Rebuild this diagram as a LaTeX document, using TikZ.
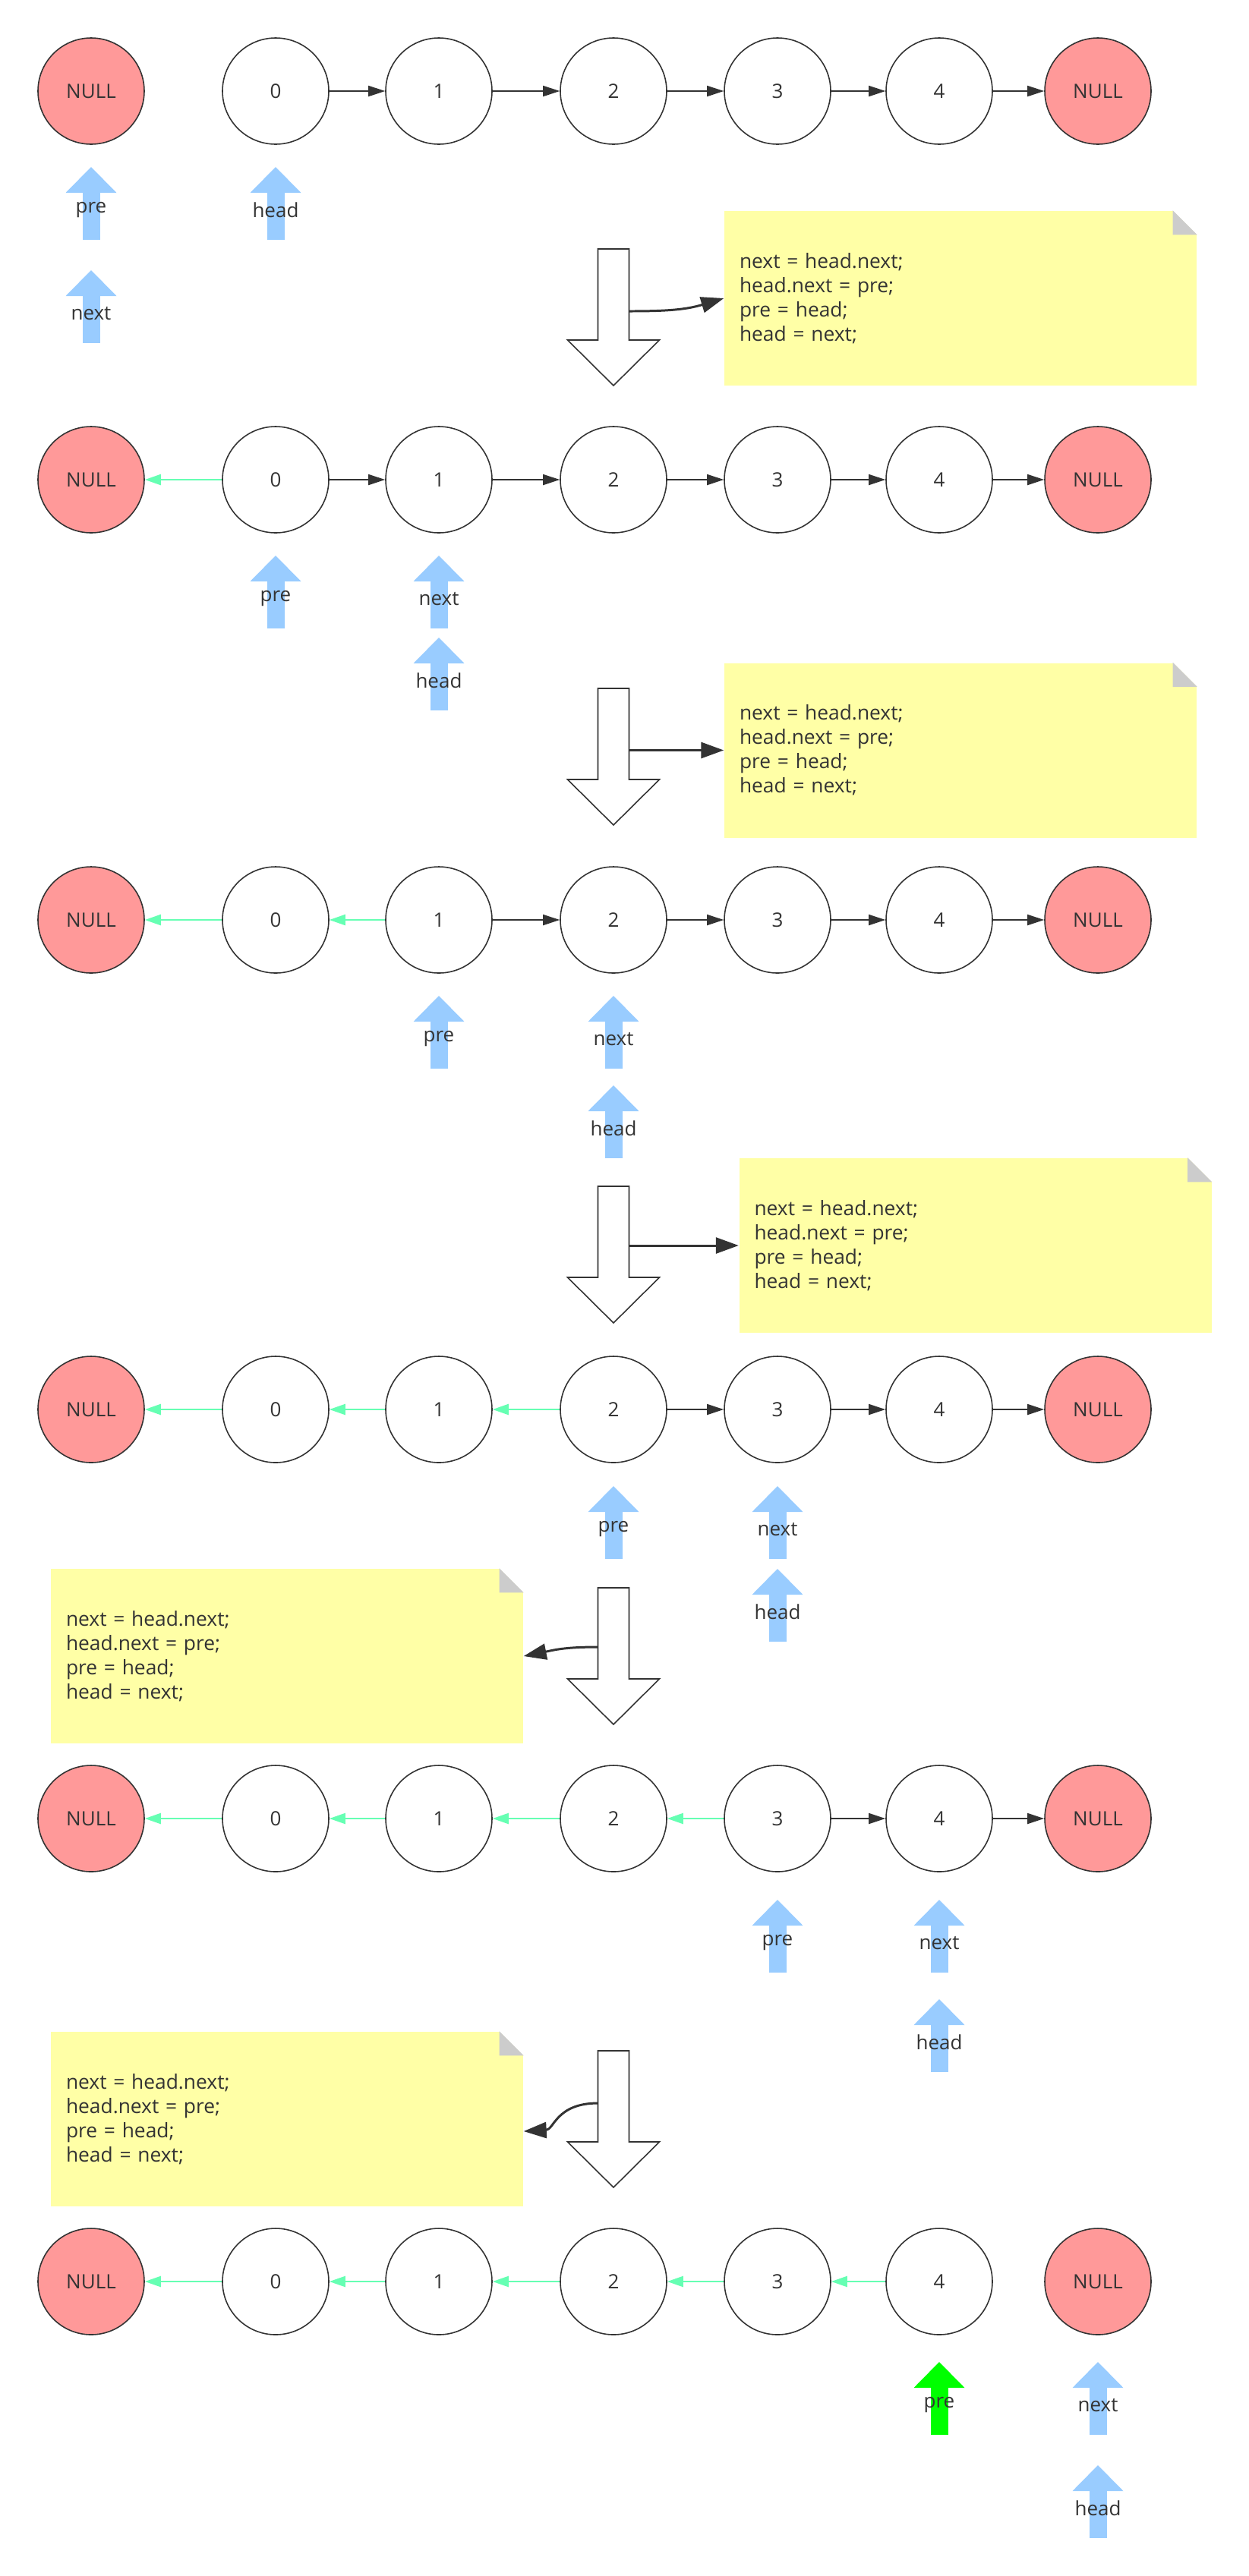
\documentclass[tikz,border=0pt]{standalone}
\usepackage{fontspec}
\setmainfont{Open Sans}
\usetikzlibrary{arrows.meta}
\definecolor{ink}{HTML}{333333}
\definecolor{nullred}{HTML}{FF9999}
\definecolor{ptrblue}{HTML}{99CCFF}
\definecolor{ptrgreen}{HTML}{00FF00}
\definecolor{edgegreen}{HTML}{66FFB3}
\definecolor{notey}{HTML}{FFFFA6}
\definecolor{foldgray}{HTML}{CCCCCC}
\begin{document}
\begin{tikzpicture}[
        x=1cm, y=-1cm,
        text=ink,
        font=\fontsize{7.4}{9}\selectfont
    ]
    \tikzset{
        mynode/.style = {circle, draw=ink, line width=0.45pt, minimum size=1.4cm, inner sep=0pt, fill=white},
        mynoder/.style = {mynode, fill=nullred},
        edgen/.style = {-{Triangle[length=0.22cm,width=0.14cm]}, line width=0.5pt, ink},
        edgeg/.style = {-{Triangle[length=0.21cm,width=0.14cm]}, line width=0.65pt, edgegreen},
        ptrb/.style = {-{Triangle[length=0.34cm,width=0.67cm,line width=0pt]}, line width=0.23cm, ptrblue},
        ptrg/.style = {ptrb, ptrgreen},
        lbl/.style = {inner sep=0pt, text=ink},
        bigarr/.style = {draw=ink, line width=0.45pt, fill=white},
        note/.style = {fill=notey, minimum width=6.22cm, minimum height=2.3cm, text width=5.82cm, inner xsep=0.2cm, align=left, font=\fontsize{7.5}{9.1}\selectfont},
        conn/.style = {-{Triangle[length=0.30cm,width=0.21cm]}, line width=0.85pt, ink},
    }
    \useasboundingbox (0,0) rectangle (16.44,33.94);
    % step 0
    \node[mynoder] at (1.20,1.20) (a1) {NULL};
    \node[mynode] at (3.63,1.20) (b1) {0};
    \node[mynode] at (5.78,1.20) (c1) {1};
    \node[mynode] at (8.08,1.20) (d1) {2};
    \node[mynode] at (10.24,1.20) (e1) {3};
    \node[mynode] at (12.37,1.20) (f1) {4};
    \node[mynoder] at (14.46,1.20) (g1) {NULL};
    \draw[edgen] (b1) -- (c1);
    \draw[edgen] (c1) -- (d1);
    \draw[edgen] (d1) -- (e1);
    \draw[edgen] (e1) -- (f1);
    \draw[edgen] (f1) -- (g1);
    \draw[ptrb] ([yshift=-1.96cm]a1.center) -- ++(0,-0.96) node[lbl,pos=0.41] (pre1) {pre};
    \draw[ptrb] ([yshift=-1.96cm]b1.center) -- ++(0,-0.96) node[lbl,pos=0.41] (head1) {head};
    \draw[ptrb] ([yshift=-3.32cm]a1.center) -- ++(0,-0.96) node[lbl,pos=0.41] (next1) {next};
    %
    \draw[bigarr] (7.875,3.28) -- ++(0.41,0) -- ++(0,1.2) -- ++(0.4,0) -- ++(-0.605,0.6) -- ++(-0.605,-0.6) -- ++(0.4,0) -- cycle;
    \node[note] at (12.65,3.93) (n1) {next = head.next;\\head.next = pre;\\pre = head;\\head = next;};
    \fill[white] (n1.north east) -- ++(-0.32,0) -- ++(0.32,0.32) -- cycle;
    \fill[foldgray] (n1.north east) ++(-0.32,0) -- ++(0,0.32) -- ++(0.32,0) -- cycle;
    \coordinate (s1) at (8.285,4.10);
    \draw[conn] (s1) .. controls +(0.5,0) and +(-0.5,0.15) .. (n1.west);
    % step 1
    \node[mynoder] at (1.20,6.32) (a2) {NULL};
    \node[mynode] at (3.63,6.32) (b2) {0};
    \node[mynode] at (5.78,6.32) (c2) {1};
    \node[mynode] at (8.08,6.32) (d2) {2};
    \node[mynode] at (10.24,6.32) (e2) {3};
    \node[mynode] at (12.37,6.32) (f2) {4};
    \node[mynoder] at (14.46,6.32) (g2) {NULL};
    \draw[edgeg] (b2) -- (a2);
    \draw[edgen] (b2) -- (c2);
    \draw[edgen] (c2) -- (d2);
    \draw[edgen] (d2) -- (e2);
    \draw[edgen] (e2) -- (f2);
    \draw[edgen] (f2) -- (g2);
    \draw[ptrb] ([yshift=-1.96cm]b2.center) -- ++(0,-0.96) node[lbl,pos=0.41] (pre2) {pre};
    \draw[ptrb] ([yshift=-1.96cm]c2.center) -- ++(0,-0.96) node[lbl,pos=0.41] (next2) {next};
    \draw[ptrb] ([yshift=-3.04cm]c2.center) -- ++(0,-0.96) node[lbl,pos=0.41] (head2) {head};
    %
    \draw[bigarr] (7.875,9.07) -- ++(0.41,0) -- ++(0,1.2) -- ++(0.4,0) -- ++(-0.605,0.6) -- ++(-0.605,-0.6) -- ++(0.4,0) -- cycle;
    \node[note] at (12.65,9.885) (n2) {next = head.next;\\head.next = pre;\\pre = head;\\head = next;};
    \fill[white] (n2.north east) -- ++(-0.32,0) -- ++(0.32,0.32) -- cycle;
    \fill[foldgray] (n2.north east) ++(-0.32,0) -- ++(0,0.32) -- ++(0.32,0) -- cycle;
    \coordinate (s2) at (8.285,9.885);
    \draw[conn] (s2) -- (n2.west);
    % step 2
    \node[mynoder] at (1.20,12.12) (a3) {NULL};
    \node[mynode] at (3.63,12.12) (b3) {0};
    \node[mynode] at (5.78,12.12) (c3) {1};
    \node[mynode] at (8.08,12.12) (d3) {2};
    \node[mynode] at (10.24,12.12) (e3) {3};
    \node[mynode] at (12.37,12.12) (f3) {4};
    \node[mynoder] at (14.46,12.12) (g3) {NULL};
    \draw[edgeg] (b3) -- (a3);
    \draw[edgeg] (c3) -- (b3);
    \draw[edgen] (c3) -- (d3);
    \draw[edgen] (d3) -- (e3);
    \draw[edgen] (e3) -- (f3);
    \draw[edgen] (f3) -- (g3);
    \draw[ptrb] ([yshift=-1.96cm]c3.center) -- ++(0,-0.96) node[lbl,pos=0.41] (pre3) {pre};
    \draw[ptrb] ([yshift=-1.96cm]d3.center) -- ++(0,-0.96) node[lbl,pos=0.41] (next3) {next};
    \draw[ptrb] ([yshift=-3.14cm]d3.center) -- ++(0,-0.96) node[lbl,pos=0.41] (head3) {head};
    %
    \draw[bigarr] (7.875,15.63) -- ++(0.41,0) -- ++(0,1.2) -- ++(0.4,0) -- ++(-0.605,0.6) -- ++(-0.605,-0.6) -- ++(0.4,0) -- cycle;
    \node[note] at (12.845,16.41) (n3) {next = head.next;\\head.next = pre;\\pre = head;\\head = next;};
    \fill[white] (n3.north east) -- ++(-0.32,0) -- ++(0.32,0.32) -- cycle;
    \fill[foldgray] (n3.north east) ++(-0.32,0) -- ++(0,0.32) -- ++(0.32,0) -- cycle;
    \coordinate (s3) at (8.285,16.41);
    \draw[conn] (s3) -- (n3.west);
    % step 3
    \node[mynoder] at (1.20,18.57) (a4) {NULL};
    \node[mynode] at (3.63,18.57) (b4) {0};
    \node[mynode] at (5.78,18.57) (c4) {1};
    \node[mynode] at (8.08,18.57) (d4) {2};
    \node[mynode] at (10.24,18.57) (e4) {3};
    \node[mynode] at (12.37,18.57) (f4) {4};
    \node[mynoder] at (14.46,18.57) (g4) {NULL};
    \draw[edgeg] (b4) -- (a4);
    \draw[edgeg] (c4) -- (b4);
    \draw[edgeg] (d4) -- (c4);
    \draw[edgen] (d4) -- (e4);
    \draw[edgen] (e4) -- (f4);
    \draw[edgen] (f4) -- (g4);
    \draw[ptrb] ([yshift=-1.97cm]d4.center) -- ++(0,-0.96) node[lbl,pos=0.41] (pre4) {pre};
    \draw[ptrb] ([yshift=-1.97cm]e4.center) -- ++(0,-0.96) node[lbl,pos=0.41] (next4) {next};
    \draw[ptrb] ([yshift=-3.06cm]e4.center) -- ++(0,-0.96) node[lbl,pos=0.41] (head4) {head};
    %
    \draw[bigarr] (7.875,20.92) -- ++(0.41,0) -- ++(0,1.2) -- ++(0.4,0) -- ++(-0.605,0.6) -- ++(-0.605,-0.6) -- ++(0.4,0) -- cycle;
    \node[note] at (3.78,21.82) (n4) {next = head.next;\\head.next = pre;\\pre = head;\\head = next;};
    \fill[white] (n4.north east) -- ++(-0.32,0) -- ++(0.32,0.32) -- cycle;
    \fill[foldgray] (n4.north east) ++(-0.32,0) -- ++(0,0.32) -- ++(0.32,0) -- cycle;
    \coordinate (s4) at (7.875,21.70);
    \draw[conn] (s4) .. controls +(-0.45,0) and +(0.4,-0.08) .. (n4.east);
    % step 4
    \node[mynoder] at (1.20,23.96) (a5) {NULL};
    \node[mynode] at (3.63,23.96) (b5) {0};
    \node[mynode] at (5.78,23.96) (c5) {1};
    \node[mynode] at (8.08,23.96) (d5) {2};
    \node[mynode] at (10.24,23.96) (e5) {3};
    \node[mynode] at (12.37,23.96) (f5) {4};
    \node[mynoder] at (14.46,23.96) (g5) {NULL};
    \draw[edgeg] (b5) -- (a5);
    \draw[edgeg] (c5) -- (b5);
    \draw[edgeg] (d5) -- (c5);
    \draw[edgeg] (e5) -- (d5);
    \draw[edgen] (e5) -- (f5);
    \draw[edgen] (f5) -- (g5);
    \draw[ptrb] ([yshift=-2.03cm]e5.center) -- ++(0,-0.96) node[lbl,pos=0.41] (pre5) {pre};
    \draw[ptrb] ([yshift=-2.03cm]f5.center) -- ++(0,-0.96) node[lbl,pos=0.41] (next5) {next};
    \draw[ptrb] ([yshift=-3.34cm]f5.center) -- ++(0,-0.96) node[lbl,pos=0.41] (head5) {head};
    %
    \draw[bigarr] (7.875,27.02) -- ++(0.41,0) -- ++(0,1.2) -- ++(0.4,0) -- ++(-0.605,0.6) -- ++(-0.605,-0.6) -- ++(0.4,0) -- cycle;
    \node[note] at (3.78,27.92) (n5) {next = head.next;\\head.next = pre;\\pre = head;\\head = next;};
    \fill[white] (n5.north east) -- ++(-0.32,0) -- ++(0.32,0.32) -- cycle;
    \fill[foldgray] (n5.north east) ++(-0.32,0) -- ++(0,0.32) -- ++(0.32,0) -- cycle;
    \coordinate (s5) at (7.875,27.71);
    \draw[conn] (s5) .. controls +(-0.55,0) and +(0.4,-0.02) .. ([yshift=-0.16cm]n5.east);
    % step 5
    \node[mynoder] at (1.20,30.06) (a6) {NULL};
    \node[mynode] at (3.63,30.06) (b6) {0};
    \node[mynode] at (5.78,30.06) (c6) {1};
    \node[mynode] at (8.08,30.06) (d6) {2};
    \node[mynode] at (10.24,30.06) (e6) {3};
    \node[mynode] at (12.37,30.06) (f6) {4};
    \node[mynoder] at (14.46,30.06) (g6) {NULL};
    \draw[edgeg] (b6) -- (a6);
    \draw[edgeg] (c6) -- (b6);
    \draw[edgeg] (d6) -- (c6);
    \draw[edgeg] (e6) -- (d6);
    \draw[edgeg] (f6) -- (e6);
    \draw[ptrg] ([yshift=-2.02cm]f6.center) -- ++(0,-0.96) node[lbl,pos=0.41] (pre6) {pre};
    \draw[ptrb] ([yshift=-2.02cm]g6.center) -- ++(0,-0.96) node[lbl,pos=0.41] (next6) {next};
    \draw[ptrb] ([yshift=-3.38cm]g6.center) -- ++(0,-0.96) node[lbl,pos=0.41] (head6) {head};
\end{tikzpicture}
\end{document}
